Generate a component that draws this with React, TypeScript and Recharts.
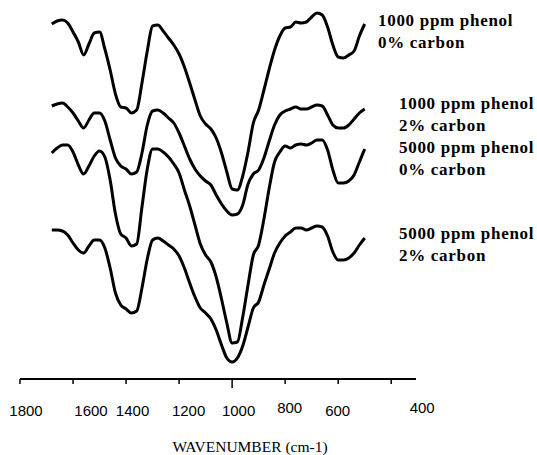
import { Line, LineChart, XAxis, YAxis } from "recharts";

// wavenumber grid (cm-1), shared by all four spectra
const wavenumbers = [
  1680, 1660, 1640, 1620, 1600, 1580, 1560, 1540, 1520, 1500,
  1480, 1460, 1440, 1420, 1400, 1380, 1360, 1340, 1320, 1300,
  1280, 1260, 1240, 1220, 1200, 1180, 1160, 1140, 1120, 1100,
  1080, 1060, 1040, 1020, 1000, 980, 960, 940, 920, 900,
  880, 860, 840, 820, 800, 780, 760, 740, 720, 700,
  680, 660, 640, 620, 600, 580, 560, 540, 520, 500
];

// transmittance, arbitrary units, spectra offset vertically
const phenol1000carbon0 = [
  355, 358, 359, 356, 347, 337, 324, 335, 346, 347,
  330, 309, 285, 272, 271, 266, 269, 296, 328, 353,
  354, 348, 341, 334, 325, 312, 296, 279, 263, 255,
  250, 241, 226, 207, 190, 189, 203, 227, 256, 269,
  289, 310, 329, 343, 351, 352, 357, 356, 357, 362,
  366, 364, 352, 334, 322, 321, 324, 328, 343, 355
];
const phenol1000carbon2 = [
  273, 275, 276, 272, 266, 258, 251, 259, 266, 266,
  258, 239, 221, 213, 210, 205, 207, 226, 254, 268,
  269, 266, 261, 256, 246, 233, 220, 210, 203, 198,
  194, 184, 175, 168, 164, 165, 174, 195, 205, 209,
  221, 238, 254, 264, 268, 270, 272, 270, 270, 272,
  274, 273, 264, 254, 251, 251, 254, 260, 266, 270
];
const phenol5000carbon0 = [
  226, 231, 234, 234, 227, 214, 205, 213, 223, 228,
  222, 199, 165, 145, 141, 133, 135, 172, 210, 230,
  230, 227, 222, 215, 206, 189, 173, 154, 135, 124,
  117, 102, 80, 56, 36, 37, 62, 94, 124, 134,
  160, 191, 217, 227, 233, 231, 234, 235, 234, 236,
  239, 239, 229, 209, 196, 196, 198, 204, 217, 230
];
const phenol5000carbon2 = [
  149, 149, 148, 144, 136, 129, 126, 133, 139, 139,
  131, 111, 86, 74, 70, 66, 68, 91, 120, 139,
  141, 138, 134, 130, 123, 111, 96, 82, 71, 66,
  60, 49, 34, 21, 17, 21, 33, 52, 71, 77,
  94, 110, 126, 136, 143, 147, 151, 151, 149, 151,
  153, 152, 143, 127, 119, 119, 121, 126, 134, 141
];

const xTicks = [1800, 1600, 1400, 1200, 1000, 800, 600, 400];

const seriesLabels = [
  ["1000 ppm phenol", "0% carbon"],
  ["1000 ppm phenol", "2% carbon"],
  ["5000 ppm phenol", "0% carbon"],
  ["5000 ppm phenol", "2% carbon"]
];

const axisTitle = "WAVENUMBER (cm-1)";

const data = wavenumbers.map((wn, i) => ({
  wn,
  s1: phenol1000carbon0[i],
  s2: phenol1000carbon2[i],
  s3: phenol5000carbon0[i],
  s4: phenol5000carbon2[i]
}));

// the scanned figure has its tick labels a little off their ticks
const tickShift: Record<number, [number, number]> = {
  1800: [6, 0],
  1600: [18, 0],
  1400: [6.5, 0],
  1200: [9.5, 0],
  1000: [6.5, 0],
  800: [4.5, -2.5],
  600: [-0.5, 0],
  400: [31, -2.5]
};

// where the right-hand labels sit: [x, first baseline]
const labelPos: [number, number][] = [
  [378, 26],
  [399, 109],
  [399, 152.5],
  [399, 238.5]
];

function WaveTick(props: any) {
  const { x, y, payload } = props;
  const v = payload.value;
  const [dx, dy] = tickShift[v] || [0, 0];
  return (
    <g>
      <line x1={x} x2={x} y1={y} y2={y + (v === 1000 ? 9 : 5)} stroke="#000" strokeWidth={1.5} />
      <text
        x={x + dx}
        y={y + 36.5 + dy}
        textAnchor="middle"
        fill="#000"
        fontFamily="'Liberation Sans', Arial, sans-serif"
        fontSize={15}
      >
        {v}
      </text>
    </g>
  );
}

export default function App() {
  return (
    <div style={{ position: "absolute", left: 0, top: 0, width: 537, height: 455, background: "#fff" }}>
      <LineChart width={537} height={455} data={data} margin={{ top: 0, right: 121, bottom: 36, left: 20 }}>
        <XAxis
          dataKey="wn"
          type="number"
          domain={[306.5, 1800]}
          reversed
          allowDataOverflow
          ticks={xTicks}
          interval={0}
          height={40}
          tickSize={0}
          tickMargin={0}
          tickLine={false}
          axisLine={{ stroke: "#000", strokeWidth: 2 }}
          tick={WaveTick}
        />
        <YAxis hide domain={[0, 379]} />
        <Line type="monotone" dataKey="s1" stroke="#000" strokeWidth={3} dot={false} isAnimationActive={false} />
        <Line type="monotone" dataKey="s2" stroke="#000" strokeWidth={3} dot={false} isAnimationActive={false} />
        <Line type="monotone" dataKey="s3" stroke="#000" strokeWidth={3} dot={false} isAnimationActive={false} />
        <Line type="monotone" dataKey="s4" stroke="#000" strokeWidth={3} dot={false} isAnimationActive={false} />
      </LineChart>
      <svg width={537} height={455} style={{ position: "absolute", left: 0, top: 0, pointerEvents: "none" }}>
        {seriesLabels.map((lines, i) => (
          <text
            key={i}
            fontFamily="'Liberation Serif', 'Times New Roman', serif"
            fontWeight="bold"
            fontSize={17}
            letterSpacing={0.7}
            fill="#000"
          >
            {lines.map((t, j) => (
              <tspan key={j} x={labelPos[i][0]} y={labelPos[i][1] + j * 22}>
                {t}
              </tspan>
            ))}
          </text>
        ))}
        <text
          x={250}
          y={452}
          textAnchor="middle"
          fontFamily="'Liberation Serif', 'Times New Roman', serif"
          fontSize={15.5}
          fill="#000"
        >
          {axisTitle}
        </text>
      </svg>
    </div>
  );
}
